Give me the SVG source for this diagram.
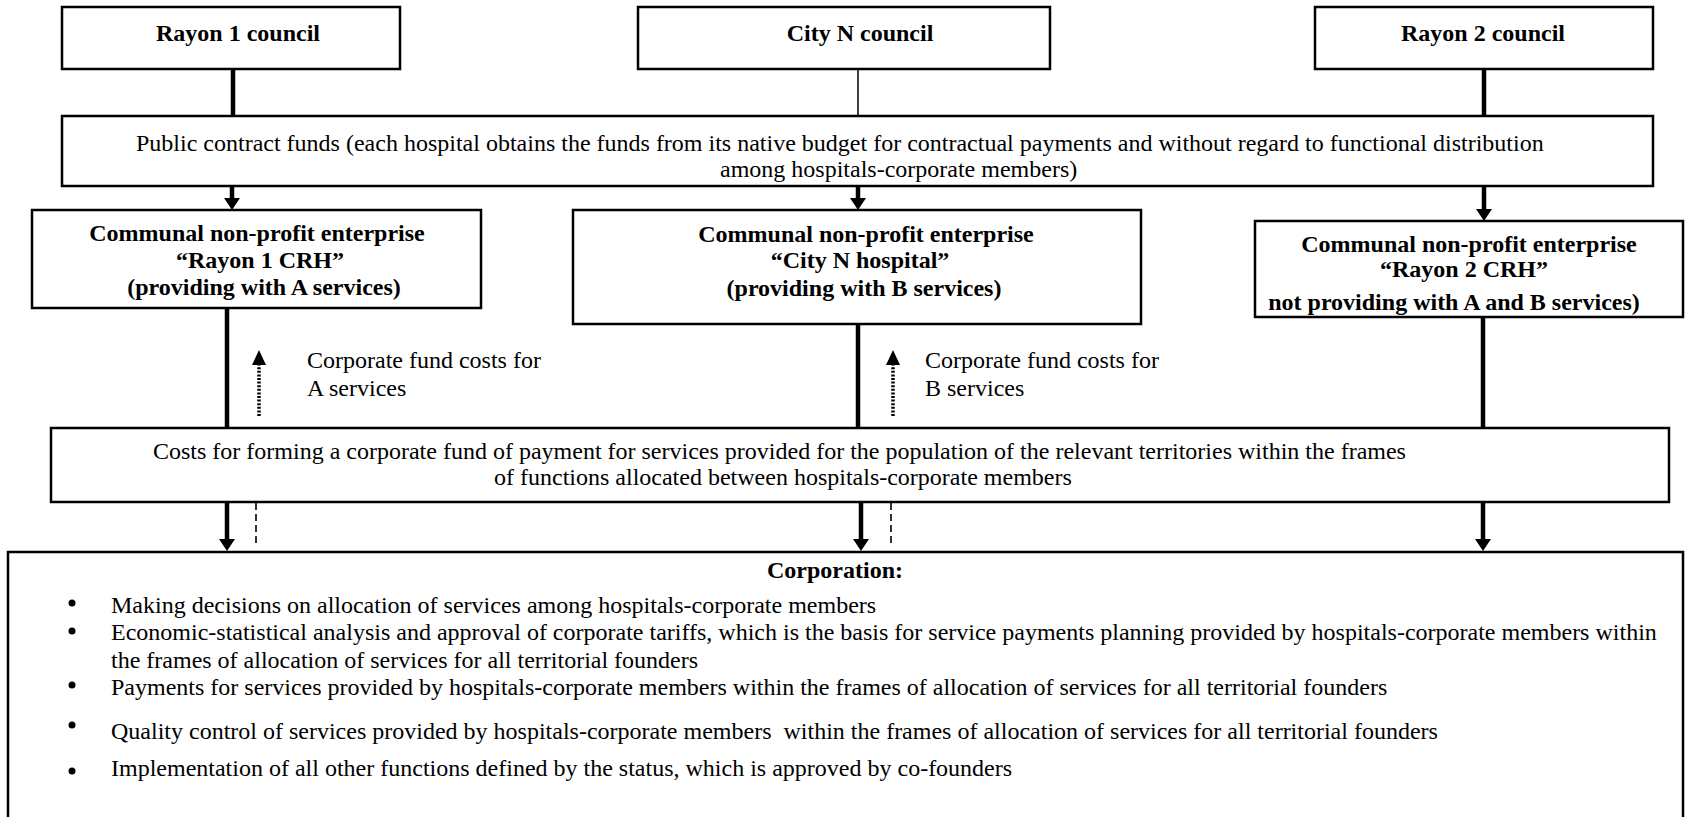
<svg xmlns="http://www.w3.org/2000/svg" width="1685" height="817" viewBox="0 0 1685 817">
<style>
  .box { fill: #fff; stroke: #000; stroke-width: 2.5; }
  .t { font-family: "Liberation Serif", "Times New Roman", serif; font-size: 24px; fill: #000; }
  .b { font-weight: bold; }
  .thick { stroke: #000; stroke-width: 4.5; fill: none; }
  .thin { stroke: #000; stroke-width: 1.5; fill: none; }
  .dot { stroke: #000; stroke-width: 3.5; stroke-dasharray: 2 1.6; fill: none; }
  .dash { stroke: #000; stroke-width: 1.6; stroke-dasharray: 7 4; fill: none; }
</style>
<defs>
  <marker id="ah" viewBox="0 0 12 16" refX="2" refY="8" markerWidth="12" markerHeight="16" orient="auto" markerUnits="userSpaceOnUse">
    <path d="M0,0 L12,8 L0,16 Z" fill="#000"/>
  </marker>
  <marker id="ahu" viewBox="0 0 15 14" refX="2" refY="7" markerWidth="15" markerHeight="14" orient="auto" markerUnits="userSpaceOnUse">
    <path d="M0,0 L15,7 L0,14 Z" fill="#000"/>
  </marker>
</defs>
<rect width="1685" height="817" fill="#fff"/>

<g id="connectors">
  <line class="thick" x1="233" y1="69" x2="233" y2="116"/>
  <line class="thin" x1="858" y1="69" x2="858" y2="116"/>
  <line class="thick" x1="1484" y1="69" x2="1484" y2="116"/>
  <line class="thick" x1="232" y1="186" x2="232" y2="200" marker-end="url(#ah)"/>
  <line class="thick" x1="858" y1="186" x2="858" y2="200" marker-end="url(#ah)"/>
  <line class="thick" x1="1484" y1="186" x2="1484" y2="211" marker-end="url(#ah)"/>
  <line class="thick" x1="227" y1="308" x2="227" y2="428"/>
  <line class="thick" x1="858" y1="324" x2="858" y2="428"/>
  <line class="thick" x1="1483" y1="317" x2="1483" y2="428"/>
  <line class="dot" x1="259" y1="416" x2="259" y2="363" marker-end="url(#ahu)"/>
  <line class="dot" x1="893" y1="416" x2="893" y2="363" marker-end="url(#ahu)"/>
  <line class="thick" x1="227" y1="502" x2="227" y2="541" marker-end="url(#ah)"/>
  <line class="thick" x1="861" y1="502" x2="861" y2="541" marker-end="url(#ah)"/>
  <line class="thick" x1="1483" y1="502" x2="1483" y2="541" marker-end="url(#ah)"/>
  <line class="dash" x1="256" y1="503" x2="256" y2="546"/>
  <line class="dash" x1="891" y1="503" x2="891" y2="546"/>
</g>

<g id="rayon1-council">
  <rect class="box" x="62" y="7" width="338" height="62"/>
  <text class="t b" x="238" y="41" text-anchor="middle">Rayon 1 council</text>
</g>
<g id="cityN-council">
  <rect class="box" x="638" y="7" width="412" height="62"/>
  <text class="t b" x="860" y="41" text-anchor="middle">City N council</text>
</g>
<g id="rayon2-council">
  <rect class="box" x="1315" y="7" width="338" height="62"/>
  <text class="t b" x="1483" y="41" text-anchor="middle">Rayon 2 council</text>
</g>

<g id="public-funds">
  <rect class="box" x="62" y="116" width="1591" height="70"/>
  <text class="t" x="136" y="151">Public contract funds (each hospital obtains the funds from its native budget for contractual payments and without regard to functional distribution</text>
  <text class="t" x="720" y="177">among hospitals-corporate members)</text>
</g>

<g id="rayon1-crh">
  <rect class="box" x="32" y="210" width="449" height="98"/>
  <text class="t b" x="257" y="241" text-anchor="middle">Communal non-profit enterprise</text>
  <text class="t b" x="260" y="268" text-anchor="middle">“Rayon 1 CRH”</text>
  <text class="t b" x="264" y="295" text-anchor="middle">(providing with A services)</text>
</g>
<g id="cityN-hospital">
  <rect class="box" x="573" y="210" width="568" height="114"/>
  <text class="t b" x="866" y="242" text-anchor="middle">Communal non-profit enterprise</text>
  <text class="t b" x="860" y="268" text-anchor="middle">“City N hospital”</text>
  <text class="t b" x="864" y="296" text-anchor="middle">(providing with B services)</text>
</g>
<g id="rayon2-crh">
  <rect class="box" x="1255" y="221" width="428" height="96"/>
  <text class="t b" x="1469" y="252" text-anchor="middle">Communal non-profit enterprise</text>
  <text class="t b" x="1464" y="277" text-anchor="middle">“Rayon 2 CRH”</text>
  <text class="t b" x="1454" y="310" text-anchor="middle">not providing with A and B services)</text>
</g>

<g id="label-a">
  <text class="t" x="307" y="368">Corporate fund costs for</text>
  <text class="t" x="307" y="396">A services</text>
</g>
<g id="label-b">
  <text class="t" x="925" y="368">Corporate fund costs for</text>
  <text class="t" x="925" y="396">B services</text>
</g>

<g id="costs-fund">
  <rect class="box" x="51" y="428" width="1618" height="74"/>
  <text class="t" x="153" y="459">Costs for forming a corporate fund of payment for services provided for the population of the relevant territories within the frames</text>
  <text class="t" x="494" y="485">of functions allocated between hospitals-corporate members</text>
</g>

<g id="corporation">
  <rect class="box" x="8" y="552" width="1675" height="300"/>
  <text class="t b" x="835" y="578" text-anchor="middle">Corporation:</text>
  <circle cx="72" cy="603" r="3.5"/>
  <circle cx="72" cy="631" r="3.5"/>
  <circle cx="72" cy="685" r="3.5"/>
  <circle cx="72" cy="725" r="3.5"/>
  <circle cx="72" cy="771" r="3.5"/>
  <text class="t" x="111" y="613">Making decisions on allocation of services among hospitals-corporate members</text>
  <text class="t" x="111" y="640">Economic-statistical analysis and approval of corporate tariffs, which is the basis for service payments planning provided by hospitals-corporate members within</text>
  <text class="t" x="111" y="668">the frames of allocation of services for all territorial founders</text>
  <text class="t" x="111" y="695">Payments for services provided by hospitals-corporate members within the frames of allocation of services for all territorial founders</text>
  <text class="t" x="111" y="739" xml:space="preserve">Quality control of services provided by hospitals-corporate members  within the frames of allocation of services for all territorial founders</text>
  <text class="t" x="111" y="776">Implementation of all other functions defined by the status, which is approved by co-founders</text>
</g>
</svg>
